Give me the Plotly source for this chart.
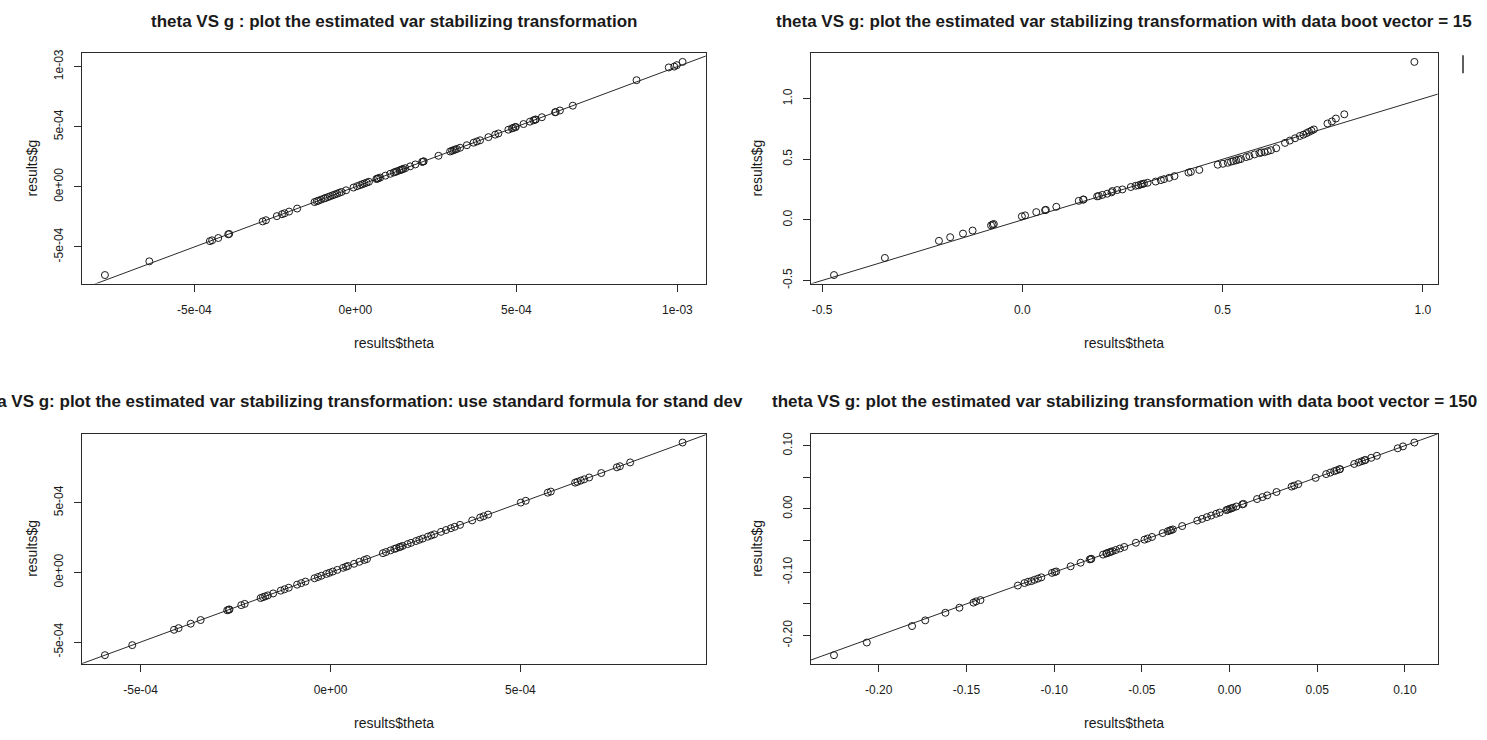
import plotly.graph_objects as go

# ---------------- data ----------------
theta1 = [-7.78e-4, -6.40e-4, -4.52e-4, -4.45e-4, -4.26e-4, -3.95e-4, -3.92e-4, -2.88e-4, -2.78e-4,
          -2.44e-4, -2.28e-4, -2.20e-4, -2.06e-4, -1.81e-4, -1.27e-4, -1.20e-4, -1.15e-4, -1.07e-4,
          -0.98e-4, -0.93e-4, -0.86e-4, -0.79e-4, -0.71e-4, -0.64e-4, -0.57e-4, -0.50e-4, -0.43e-4,
          -0.29e-4, -0.06e-4, 0.05e-4, 0.14e-4, 0.21e-4, 0.28e-4, 0.35e-4, 0.42e-4, 0.65e-4, 0.68e-4,
          0.71e-4, 0.77e-4, 0.93e-4, 1.08e-4, 1.19e-4, 1.24e-4, 1.29e-4, 1.37e-4, 1.42e-4, 1.45e-4,
          1.48e-4, 1.55e-4, 1.70e-4, 1.86e-4, 2.07e-4, 2.10e-4, 2.12e-4, 2.58e-4, 2.94e-4, 3.00e-4,
          3.05e-4, 3.10e-4, 3.15e-4, 3.25e-4, 3.46e-4, 3.67e-4, 3.77e-4, 3.87e-4, 4.13e-4, 4.34e-4,
          4.44e-4, 4.75e-4, 4.86e-4, 4.90e-4, 4.96e-4, 4.98e-4, 5.22e-4, 5.42e-4, 5.53e-4, 5.58e-4,
          5.60e-4, 5.79e-4, 6.20e-4, 6.22e-4, 6.35e-4, 6.75e-4, 8.73e-4, 9.73e-4, 9.90e-4, 9.98e-4,
          10.16e-4]
g1 = [-7.34e-4, -6.20e-4, -4.52e-4, -4.45e-4, -4.26e-4, -3.95e-4, -3.92e-4, -2.88e-4, -2.78e-4,
      -2.44e-4, -2.28e-4, -2.20e-4, -2.06e-4, -1.81e-4, -1.27e-4, -1.20e-4, -1.15e-4, -1.07e-4,
      -0.98e-4, -0.93e-4, -0.86e-4, -0.79e-4, -0.71e-4, -0.64e-4, -0.57e-4, -0.50e-4, -0.43e-4,
      -0.29e-4, -0.06e-4, 0.05e-4, 0.14e-4, 0.21e-4, 0.28e-4, 0.35e-4, 0.42e-4, 0.65e-4, 0.68e-4,
      0.71e-4, 0.77e-4, 0.93e-4, 1.08e-4, 1.19e-4, 1.24e-4, 1.29e-4, 1.37e-4, 1.42e-4, 1.45e-4,
      1.48e-4, 1.55e-4, 1.70e-4, 1.86e-4, 2.07e-4, 2.10e-4, 2.12e-4, 2.58e-4, 2.94e-4, 3.00e-4,
      3.05e-4, 3.10e-4, 3.15e-4, 3.25e-4, 3.46e-4, 3.67e-4, 3.77e-4, 3.87e-4, 4.13e-4, 4.34e-4,
      4.44e-4, 4.75e-4, 4.86e-4, 4.90e-4, 4.96e-4, 4.98e-4, 5.22e-4, 5.42e-4, 5.53e-4, 5.58e-4,
      5.60e-4, 5.79e-4, 6.20e-4, 6.22e-4, 6.35e-4, 6.75e-4, 8.87e-4, 9.93e-4, 10.00e-4, 10.12e-4,
      10.39e-4]

theta2 = [-0.470, -0.343, -0.208, -0.180, -0.148, -0.124, -0.078, -0.074, -0.071, -0.001, 0.007,
          0.035, 0.057, 0.059, 0.085, 0.141, 0.152, 0.153, 0.187, 0.191, 0.200, 0.212, 0.223, 0.225,
          0.237, 0.250, 0.271, 0.283, 0.290, 0.296, 0.300, 0.304, 0.313, 0.333, 0.346, 0.354, 0.367,
          0.380, 0.415, 0.421, 0.442, 0.488, 0.501, 0.513, 0.521, 0.527, 0.534, 0.540, 0.546, 0.559,
          0.567, 0.580, 0.592, 0.597, 0.605, 0.613, 0.621, 0.634, 0.656, 0.668, 0.681, 0.693, 0.702,
          0.710, 0.716, 0.722, 0.728, 0.762, 0.773, 0.783, 0.804, 0.979]
g2 = [-0.455, -0.314, -0.173, -0.143, -0.113, -0.088, -0.045, -0.039, -0.034, 0.029, 0.037,
      0.064, 0.080, 0.083, 0.108, 0.157, 0.167, 0.168, 0.194, 0.197, 0.206, 0.216, 0.227, 0.238,
      0.246, 0.251, 0.271, 0.281, 0.285, 0.292, 0.296, 0.300, 0.306, 0.316, 0.328, 0.336, 0.347,
      0.361, 0.390, 0.396, 0.412, 0.455, 0.463, 0.471, 0.480, 0.485, 0.491, 0.497, 0.502, 0.518,
      0.526, 0.540, 0.551, 0.556, 0.559, 0.567, 0.575, 0.591, 0.635, 0.654, 0.673, 0.692, 0.703,
      0.716, 0.726, 0.736, 0.746, 0.795, 0.812, 0.836, 0.871, 1.303]

theta3 = [-5.94e-4, -5.22e-4, -4.12e-4, -4.00e-4, -3.68e-4, -3.42e-4, -2.72e-4, -2.68e-4, -2.66e-4,
          -2.35e-4, -2.26e-4, -1.84e-4, -1.78e-4, -1.72e-4, -1.65e-4, -1.51e-4, -1.31e-4, -1.21e-4,
          -1.10e-4, -0.88e-4, -0.77e-4, -0.66e-4, -0.42e-4, -0.33e-4, -0.24e-4, -0.11e-4, -0.03e-4,
          0.06e-4, 0.18e-4, 0.33e-4, 0.41e-4, 0.46e-4, 0.62e-4, 0.76e-4, 0.89e-4, 0.96e-4, 1.38e-4,
          1.46e-4, 1.58e-4, 1.68e-4, 1.73e-4, 1.81e-4, 1.84e-4, 1.90e-4, 2.03e-4, 2.12e-4, 2.25e-4,
          2.34e-4, 2.43e-4, 2.56e-4, 2.65e-4, 2.73e-4, 2.91e-4, 3.04e-4, 3.17e-4, 3.27e-4, 3.41e-4,
          3.73e-4, 3.94e-4, 4.03e-4, 4.15e-4, 5.01e-4, 5.14e-4, 5.72e-4, 5.80e-4, 6.44e-4, 6.50e-4,
          6.59e-4, 6.68e-4, 6.81e-4, 7.13e-4, 7.54e-4, 7.62e-4, 7.89e-4, 9.27e-4]
g3 = [-5.94e-4, -5.22e-4, -4.12e-4, -4.00e-4, -3.68e-4, -3.42e-4, -2.72e-4, -2.68e-4, -2.66e-4,
      -2.35e-4, -2.26e-4, -1.84e-4, -1.78e-4, -1.72e-4, -1.65e-4, -1.51e-4, -1.31e-4, -1.21e-4,
      -1.10e-4, -0.88e-4, -0.77e-4, -0.66e-4, -0.42e-4, -0.33e-4, -0.24e-4, -0.11e-4, -0.03e-4,
      0.06e-4, 0.18e-4, 0.33e-4, 0.41e-4, 0.46e-4, 0.62e-4, 0.76e-4, 0.89e-4, 0.96e-4, 1.38e-4,
      1.46e-4, 1.58e-4, 1.68e-4, 1.73e-4, 1.81e-4, 1.84e-4, 1.90e-4, 2.03e-4, 2.12e-4, 2.25e-4,
      2.34e-4, 2.43e-4, 2.56e-4, 2.65e-4, 2.73e-4, 2.91e-4, 3.04e-4, 3.17e-4, 3.27e-4, 3.41e-4,
      3.73e-4, 3.94e-4, 4.03e-4, 4.15e-4, 5.01e-4, 5.14e-4, 5.72e-4, 5.80e-4, 6.44e-4, 6.50e-4,
      6.59e-4, 6.68e-4, 6.81e-4, 7.13e-4, 7.54e-4, 7.62e-4, 7.89e-4, 9.32e-4]

theta4 = [-0.2255, -0.2068, -0.1810, -0.1735, -0.1620, -0.1540, -0.1460, -0.1445, -0.1420, -0.1207,
          -0.1169, -0.1149, -0.1130, -0.1112, -0.1092, -0.1073, -0.1012, -0.0997, -0.0988, -0.0906,
          -0.0849, -0.0797, -0.0790, -0.0788, -0.0721, -0.0702, -0.0700, -0.0686, -0.0677, -0.0667,
          -0.0648, -0.0625, -0.0600, -0.0534, -0.0485, -0.0467, -0.0442, -0.0381, -0.0352, -0.0340,
          -0.0333, -0.0323, -0.0270, -0.0184, -0.0156, -0.0129, -0.0104, -0.0076, -0.0056, -0.0018,
          -0.0010, 0.0001, 0.0010, 0.0020, 0.0039, 0.0073, 0.0080, 0.0157, 0.0188, 0.0215, 0.0268,
          0.0354, 0.0369, 0.0392, 0.0491, 0.0551, 0.0574, 0.0597, 0.0611, 0.0627, 0.0630, 0.0711,
          0.0736, 0.0755, 0.0770, 0.0775, 0.0808, 0.0840, 0.0959, 0.0989, 0.1054]
g4 = [-0.2310, -0.2110, -0.1850, -0.1760, -0.1640, -0.1560, -0.1480, -0.1460, -0.1440, -0.1210,
      -0.1170, -0.1150, -0.1140, -0.1120, -0.1100, -0.1080, -0.1010, -0.0997, -0.0988, -0.0906,
      -0.0849, -0.0797, -0.0790, -0.0788, -0.0721, -0.0702, -0.0700, -0.0686, -0.0677, -0.0667,
      -0.0648, -0.0625, -0.0600, -0.0534, -0.0485, -0.0467, -0.0442, -0.0381, -0.0352, -0.0340,
      -0.0333, -0.0323, -0.0270, -0.0184, -0.0156, -0.0129, -0.0104, -0.0076, -0.0056, -0.0018,
      -0.0010, 0.0001, 0.0010, 0.0020, 0.0039, 0.0073, 0.0080, 0.0157, 0.0188, 0.0215, 0.0268,
      0.0354, 0.0369, 0.0392, 0.0491, 0.0551, 0.0574, 0.0597, 0.0611, 0.0627, 0.0630, 0.0711,
      0.0736, 0.0755, 0.0770, 0.0775, 0.0808, 0.0840, 0.0959, 0.0989, 0.1050]

titles = [
    "theta VS g : plot the estimated var stabilizing transformation",
    "theta VS g: plot the estimated var stabilizing transformation with data boot vector = 15",
    "theta VS g: plot the estimated var stabilizing transformation: use standard formula for stand dev",
    "theta VS g: plot the estimated var stabilizing transformation with data boot vector = 150",
]
x_label = "results$theta"
y_label = "results$g"

xtick_vals1 = [-5e-4, 0.0, 5e-4, 1e-3]
xtick_text1 = ["-5e-04", "0e+00", "5e-04", "1e-03"]
ytick_vals1 = [-5e-4, 0.0, 5e-4, 1e-3]
ytick_text1 = ["-5e-04", "0e+00", "5e-04", "1e-03"]
xtick_vals2 = [-0.5, 0.0, 0.5, 1.0]
xtick_text2 = ["-0.5", "0.0", "0.5", "1.0"]
ytick_vals2 = [-0.5, 0.0, 0.5, 1.0]
ytick_text2 = ["-0.5", "0.0", "0.5", "1.0"]
xtick_vals3 = [-5e-4, 0.0, 5e-4]
xtick_text3 = ["-5e-04", "0e+00", "5e-04"]
ytick_vals3 = [-5e-4, 0.0, 5e-4]
ytick_text3 = ["-5e-04", "0e+00", "5e-04"]
xtick_vals4 = [-0.20, -0.15, -0.10, -0.05, 0.0, 0.05, 0.10]
xtick_text4 = ["-0.20", "-0.15", "-0.10", "-0.05", "0.00", "0.05", "0.10"]
ytick_vals4 = [-0.20, -0.15, -0.10, -0.05, 0.0, 0.05, 0.10]
ytick_text4 = ["-0.20", "", "-0.10", "", "0.00", "", "0.10"]

# ---------------- layout / styling ----------------
W, H = 1487, 740
# plot boxes in pixels: (left, right, top, bottom)
boxes = [(81.8, 705.7, 50.0, 283.0), (810.8, 1437.6, 50.0, 283.0),
         (81.8, 705.7, 435.3, 667.8), (810.8, 1437.6, 435.3, 667.8)]
title_y = [18, 18, 402, 402]
xtitle_y = [343, 343, 728, 728]
ytitle_x = [32, 757, 32, 757]

TXT = "#1a1a1a"
LINE = "#2a2a2a"
FONT = "Liberation Sans, Arial, sans-serif"


def pad(v):
    lo, hi = min(v), max(v)
    d = (hi - lo) * 0.04
    return [lo - d, hi + d]


def px(x):
    return x / W


def py(y):
    return 1 - y / H


series = [(theta1, g1), (theta2, g2), (theta3, g3), (theta4, g4)]
xticks = [(xtick_vals1, xtick_text1), (xtick_vals2, xtick_text2),
          (xtick_vals3, xtick_text3), (xtick_vals4, xtick_text4)]
yticks = [(ytick_vals1, ytick_text1), (ytick_vals2, ytick_text2),
          (ytick_vals3, ytick_text3), (ytick_vals4, ytick_text4)]

fig = go.Figure()
annotations = []
for i, (th, g) in enumerate(series):
    n = "" if i == 0 else str(i + 1)
    xa, ya = "x" + n, "y" + n
    xr, yr = pad(th), pad(g)
    lo = min(xr[0], yr[0]) * 1.2
    hi = max(xr[1], yr[1]) * 1.2
    fig.add_trace(go.Scatter(x=[lo, hi], y=[lo, hi], mode="lines",
                             line=dict(color=LINE, width=1), xaxis=xa, yaxis=ya,
                             showlegend=False, hoverinfo="skip"))
    fig.add_trace(go.Scatter(x=th, y=g, mode="markers",
                             marker=dict(symbol="circle-open", size=7, color=TXT,
                                         line=dict(width=1, color=TXT)),
                             xaxis=xa, yaxis=ya, showlegend=False))
    l, r, t, b = boxes[i]
    common = dict(showgrid=False, zeroline=False, showline=True, mirror=True,
                  linecolor=LINE, linewidth=1, ticks="outside", ticklen=7, tickwidth=1,
                  tickcolor=LINE, tickfont=dict(family=FONT, size=12, color=TXT))
    fig.layout["xaxis" + n] = dict(domain=[px(l), px(r)], range=xr, anchor=ya,
                                   tickmode="array", tickvals=xticks[i][0],
                                   ticktext=xticks[i][1], ticklabelstandoff=8, **common)
    fig.layout["yaxis" + n] = dict(domain=[py(b), py(t)], range=yr, anchor=xa,
                                   tickmode="array", tickvals=yticks[i][0],
                                   ticktext=yticks[i][1], tickangle=-90,
                                   ticklabelstandoff=6, **common)
    cx = (l + r) / 2
    cy = (t + b) / 2
    if i == 2:
        annotations.append(dict(text="<b>" + titles[i] + "</b>", x=px(745), y=py(title_y[i]),
                                xref="paper", yref="paper", xanchor="right", yanchor="middle",
                                showarrow=False, font=dict(family=FONT, size=17, color=TXT)))
    else:
        annotations.append(dict(text="<b>" + titles[i] + "</b>", x=px(cx), y=py(title_y[i]),
                                xref="paper", yref="paper", xanchor="center", yanchor="middle",
                                showarrow=False, font=dict(family=FONT, size=17, color=TXT)))
    annotations.append(dict(text=x_label, x=px(cx), y=py(xtitle_y[i]), xref="paper",
                            yref="paper", xanchor="center", yanchor="middle", showarrow=False,
                            font=dict(family=FONT, size=14, color=TXT)))
    annotations.append(dict(text=y_label, x=px(ytitle_x[i]), y=py(cy), xref="paper",
                            yref="paper", xanchor="center", yanchor="middle", showarrow=False,
                            textangle=-90, font=dict(family=FONT, size=14, color=TXT)))

fig.update_layout(
    width=W, height=H, autosize=False,
    margin=dict(l=0, r=0, t=0, b=0),
    paper_bgcolor="white", plot_bgcolor="white",
    annotations=annotations,
    shapes=[dict(type="line", xref="paper", yref="paper", x0=px(1463), x1=px(1463),
                 y0=py(52), y1=py(70), line=dict(color=LINE, width=1.5))],
)

fig.write_html("out.html", config={"displayModeBar": False},
               post_script="document.body.style.margin='0';document.body.style.overflow='hidden';")
